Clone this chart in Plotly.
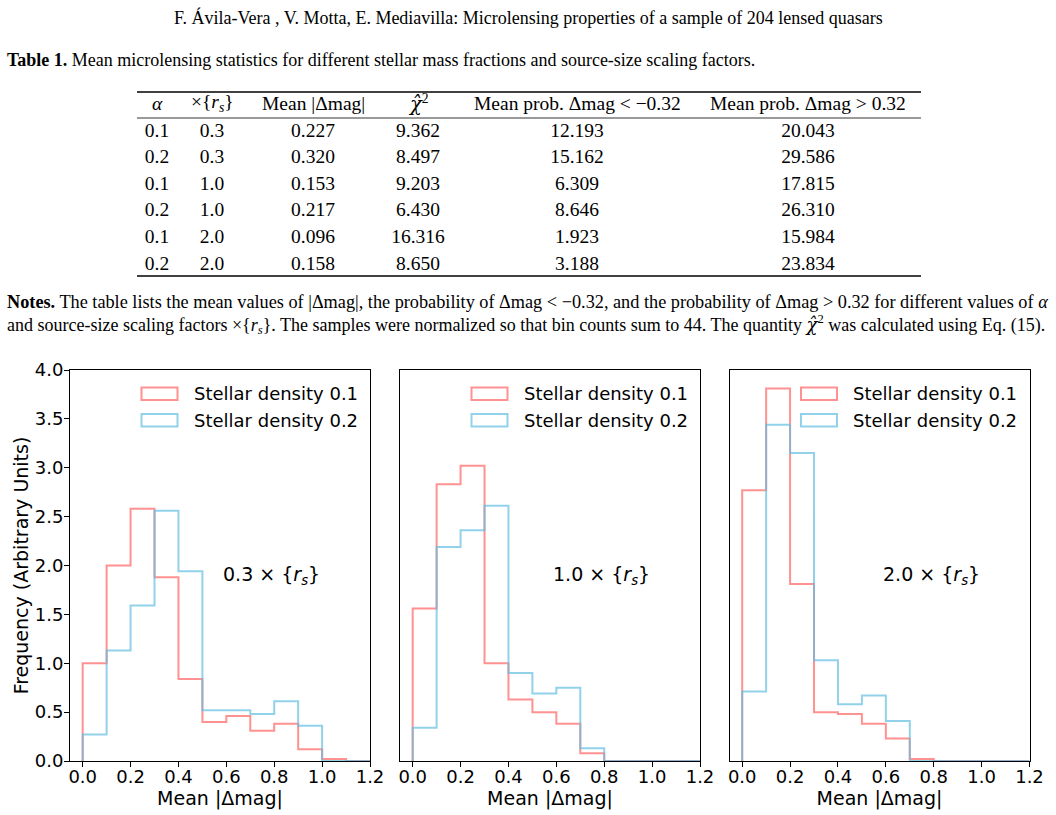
import plotly.graph_objects as go

W, H = 1056, 815

# ---------------- data ----------------
bin_edges = [0.0, 0.1, 0.2, 0.3, 0.4, 0.5, 0.6, 0.7, 0.8, 0.9, 1.0, 1.1, 1.2]

dens01_r03 = [1.00, 2.00, 2.58, 1.88, 0.84, 0.40, 0.46, 0.31, 0.38, 0.12, 0.02, 0.00]
dens02_r03 = [0.27, 1.13, 1.59, 2.56, 1.94, 0.52, 0.52, 0.48, 0.61, 0.36, 0.00, 0.00]
dens01_r10 = [1.56, 2.83, 3.02, 1.00, 0.63, 0.50, 0.38, 0.08, 0.00, 0.00, 0.00, 0.00]
dens02_r10 = [0.34, 2.19, 2.36, 2.61, 0.90, 0.69, 0.75, 0.13, 0.00, 0.00, 0.00, 0.00]
dens01_r20 = [2.77, 3.81, 1.81, 0.50, 0.48, 0.38, 0.23, 0.02, 0.00, 0.00, 0.00, 0.00]
dens02_r20 = [0.71, 3.44, 3.15, 1.03, 0.58, 0.67, 0.41, 0.00, 0.00, 0.00, 0.00, 0.00]

panel_labels = ["0.3", "1.0", "2.0"]
series_names = ["Stellar density 0.1", "Stellar density 0.2"]

x_ticks = [0.0, 0.2, 0.4, 0.6, 0.8, 1.0, 1.2]
y_ticks = [0.0, 0.5, 1.0, 1.5, 2.0, 2.5, 3.0, 3.5, 4.0]

# table
tab_header = ["<i>α</i>", "×{<i>r</i><sub><i>s</i></sub>}", "Mean |Δmag|",
              "<span style='font-family:DejaVu Serif'><i>χ̂</i></span><sup>2</sup>",
              "Mean prob. Δmag < −0.32", "Mean prob. Δmag > 0.32"]
col_alpha = ["0.1", "0.2", "0.1", "0.2", "0.1", "0.2"]
col_rs = ["0.3", "0.3", "1.0", "1.0", "2.0", "2.0"]
col_mean = ["0.227", "0.320", "0.153", "0.217", "0.096", "0.158"]
col_chi2 = ["9.362", "8.497", "9.203", "6.430", "16.316", "8.650"]
col_plo = ["12.193", "15.162", "6.309", "8.646", "1.923", "3.188"]
col_phi = ["20.043", "29.586", "17.815", "26.310", "15.984", "23.834"]

# ---------------- styling ----------------
RED = "rgba(255,99,99,0.70)"
BLUE = "rgba(100,190,225,0.70)"
SERIF = "Liberation Serif"
SANS = "DejaVu Sans"
TXT = 18
TAB = 19.5


def fx(p):
    return p / W


def fy(p):
    return 1 - p / H


panel_left = [70, 400, 729.5]
panel_w = 300
top_px, bot_px = 370, 761

fig = go.Figure()

panels = [(dens01_r03, dens02_r03), (dens01_r10, dens02_r10), (dens01_r20, dens02_r20)]


def step_xy(edges, vals):
    xs = [edges[0]] + list(edges[:-1]) + [edges[-1], edges[-1]]
    ys = [0.0] + list(vals) + [vals[-1], 0.0]
    return xs, ys


for i, (red_vals, blue_vals) in enumerate(panels):
    xa = "x" if i == 0 else f"x{i+1}"
    ya = "y" if i == 0 else f"y{i+1}"
    for vals, col, name in [(red_vals, RED, series_names[0]), (blue_vals, BLUE, series_names[1])]:
        xs, ys = step_xy(bin_edges, vals)
        fig.add_trace(go.Scatter(x=xs, y=ys, mode="lines", line=dict(color=col, width=2, shape="hv"),
                                 name=name, showlegend=False, xaxis=xa, yaxis=ya, hoverinfo="skip"))

axis_common = dict(showline=True, mirror=True, linecolor="black", linewidth=1, showgrid=False,
                   zeroline=False, ticks="outside", ticklen=5, tickwidth=1, tickcolor="black",
                   automargin=False)

for i in range(3):
    l = panel_left[i]
    xkey = "xaxis" if i == 0 else f"xaxis{i+1}"
    ykey = "yaxis" if i == 0 else f"yaxis{i+1}"
    ya = "y" if i == 0 else f"y{i+1}"
    xa = "x" if i == 0 else f"x{i+1}"
    fig.layout[xkey] = dict(
        domain=[fx(l), fx(l + panel_w)], anchor=ya, range=[-0.053, 1.2],
        tickvals=x_ticks, ticktext=[f"{v:.1f}" for v in x_ticks],
        tickfont=dict(family=SANS, size=18, color="black"), ticklabelstandoff=-6,
        title=dict(text="Mean |Δmag|", font=dict(family=SANS, size=19, color="black"), standoff=4),
        **axis_common)
    ydict = dict(domain=[fy(bot_px), fy(top_px)], anchor=xa, range=[0, 4.0],
                 tickvals=y_ticks, ticktext=[f"{v:.1f}" for v in y_ticks],
                 tickfont=dict(family=SANS, size=18, color="black"), **axis_common)
    if i == 0:
        ydict["ticklabelstandoff"] = -3
        ydict["title"] = dict(text="Frequency (Arbitrary Units)", font=dict(family=SANS, size=19, color="black"),
                              standoff=1)
    else:
        ydict["showticklabels"] = False
        ydict["ticks"] = ""
    fig.layout[ykey] = ydict

shapes = []
annotations = []

# manual legends + panel labels
for i in range(3):
    l = panel_left[i]
    for j, (col, name) in enumerate([(RED, series_names[0]), (BLUE, series_names[1])]):
        y0 = 387.5 + j * 26.5
        shapes.append(dict(type="rect", xref="paper", yref="paper",
                           x0=fx(l + 71.5), x1=fx(l + 107.5), y0=fy(y0), y1=fy(y0 + 12.5),
                           line=dict(color=col, width=2), fillcolor="rgba(0,0,0,0)"))
        annotations.append(dict(x=fx(l + 121.5), y=fy(y0 + 6.3), xref="paper", yref="paper",
                                text=name, showarrow=False, xanchor="left", yanchor="middle",
                                font=dict(family=SANS, size=18, color="black")))
    annotations.append(dict(x=fx(l + 151), y=fy(575), xref="paper", yref="paper",
                            text=f"{panel_labels[i]} × {{<i>r</i><sub><i>s</i></sub>}}", showarrow=False,
                            xanchor="left", yanchor="middle",
                            font=dict(family=SANS, size=19, color="black")))

# page texts
annotations.append(dict(x=fx(528), y=fy(18), xref="paper", yref="paper", showarrow=False,
                        text="F. Ávila-Vera , V. Motta, E. Mediavilla: Microlensing properties of a sample of 204 lensed quasars",
                        xanchor="center", yanchor="middle", font=dict(family=SERIF, size=18, color="black")))
annotations.append(dict(x=fx(5), y=fy(60), xref="paper", yref="paper", showarrow=False,
                        text="<b>Table 1.</b> Mean microlensing statistics for different stellar mass fractions and source-size scaling factors.",
                        xanchor="left", yanchor="middle", font=dict(family=SERIF, size=TXT, color="black")))
annotations.append(dict(x=fx(5), y=fy(302), xref="paper", yref="paper", showarrow=False,
                        text="<b>Notes.</b> The table lists the mean values of |Δmag|, the probability of Δmag < −0.32, and the probability of Δmag > 0.32 for different values of <i>α</i>",
                        xanchor="left", yanchor="middle", font=dict(family=SERIF, size=18.25, color="black")))
annotations.append(dict(x=fx(5), y=fy(325), xref="paper", yref="paper", showarrow=False,
                        text="and source-size scaling factors ×{<i>r</i><sub><i>s</i></sub>}. The samples were normalized so that bin counts sum to 44. The quantity <span style='font-family:DejaVu Serif'><i>χ̂</i></span><sup>2</sup> was calculated using Eq. (15).",
                        xanchor="left", yanchor="middle", font=dict(family=SERIF, size=TXT, color="black")))

# table geometry (px)
tab_x0, tab_x1 = 137, 919
col_widths = [40, 70, 132, 78, 240, 222]

# column headings (rich text with sub/superscripts) placed over the table's columns
scale = (tab_x1 - tab_x0) / sum(col_widths)
acc = tab_x0
for hdr, cw in zip(tab_header, col_widths):
    cx = acc + cw * scale / 2
    acc += cw * scale
    annotations.append(dict(x=fx(cx), y=fy(103.5), xref="paper", yref="paper", showarrow=False,
                            text=hdr, xanchor="center", yanchor="middle",
                            font=dict(family=SERIF, size=TAB, color="black")))

# booktabs-style rules
for yy, wdt in [(92, 1.3), (118, 0.8), (276, 1.3)]:
    shapes.append(dict(type="line", xref="paper", yref="paper", x0=fx(137), x1=fx(921),
                       y0=fy(yy), y1=fy(yy), line=dict(color="black", width=wdt)))

table_columns = [col_alpha, col_rs, col_mean, col_chi2, col_plo, col_phi]

fig.add_trace(go.Table(
    domain=dict(x=[fx(tab_x0), fx(tab_x1)], y=[fy(292), fy(98)]),
    columnwidth=col_widths,
    header=dict(values=[], height=1, line=dict(color="rgba(0,0,0,0)", width=0),
                fill=dict(color="rgba(0,0,0,0)")),
    cells=dict(values=table_columns, align="center", height=26.6,
               line=dict(color="rgba(0,0,0,0)", width=0), fill=dict(color="rgba(0,0,0,0)"),
               font=dict(family=SERIF, size=TAB, color="black")),
))

fig.update_layout(width=W, height=H, margin=dict(l=0, r=0, t=0, b=0, autoexpand=False), paper_bgcolor="white",
                  plot_bgcolor="white", shapes=shapes, annotations=annotations, showlegend=False)

fig.write_html("out.html")
